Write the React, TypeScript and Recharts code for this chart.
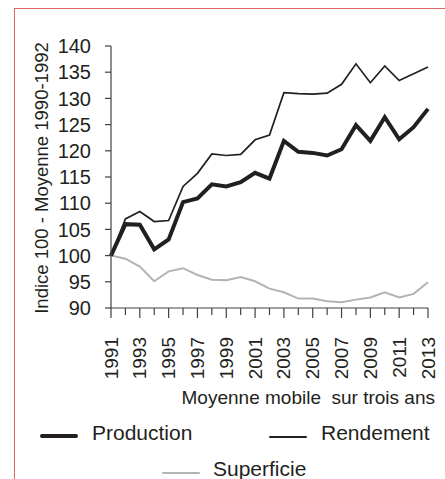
import { Label, Line, LineChart, XAxis, YAxis } from 'recharts'

const years = [
  '1991', '1992', '1993', '1994', '1995', '1996', '1997', '1998', '1999', '2000', '2001', '2002',
  '2003', '2004', '2005', '2006', '2007', '2008', '2009', '2010', '2011', '2012', '2013',
]
const production = [
  100, 106.0, 105.9, 101.2, 103.1, 110.2, 110.9, 113.6, 113.2, 114.0, 115.8, 114.7,
  121.9, 119.8, 119.6, 119.1, 120.3, 124.9, 121.9, 126.4, 122.2, 124.5, 128.0,
]
const rendement = [
  100, 107.0, 108.4, 106.5, 106.7, 113.2, 115.7, 119.4, 119.1, 119.3, 122.1, 123.0,
  131.1, 130.9, 130.8, 131.0, 132.7, 136.6, 133.0, 136.2, 133.4, 134.7, 136.0,
]
const superficie = [
  100, 99.4, 97.9, 95.1, 97.0, 97.6, 96.3, 95.4, 95.3, 95.9, 95.1, 93.7,
  93.0, 91.8, 91.8, 91.3, 91.1, 91.6, 92.0, 93.0, 92.0, 92.7, 94.9,
]
const yTicks = [90, 95, 100, 105, 110, 115, 120, 125, 130, 135, 140]

const data = years.map((year, i) => ({
  year,
  production: production[i],
  rendement: rendement[i],
  superficie: superficie[i],
}))

const font = 'Arial, "Liberation Sans", sans-serif'
const textColor = '#231f20'

// year ticks: every year gets a mark, odd years get a longer one and a label
function YearTick(props: any) {
  const { x, y, payload, index } = props
  const labelled = index % 2 === 0
  return (
    <g>
      <line x1={x} y1={y} x2={x} y2={y + (labelled ? 10 : 7)} stroke="#404040" strokeWidth={1.2} />
      {labelled && (
        <text
          x={0}
          y={0}
          transform={`translate(${x},${y + 29}) rotate(-90)`}
          textAnchor="end"
          dominantBaseline="central"
          fontSize={19}
          fontFamily={font}
          fill={textColor}
        >
          {payload.value}
        </text>
      )}
    </g>
  )
}

function YTitle(props: any) {
  const { viewBox } = props
  const cx = viewBox.x - 10
  const cy = viewBox.y + viewBox.height / 2 + 1
  return (
    <text
      x={cx}
      y={cy}
      transform={`rotate(-90, ${cx}, ${cy})`}
      textAnchor="middle"
      dominantBaseline="central"
      fontSize={18.5}
      fontFamily={font}
      fill={textColor}
    >
      Indice 100 - Moyenne 1990-1992
    </text>
  )
}

function LegendItem({ label, color, width, left, top, lineLeft, lineTop }: any) {
  return (
    <>
      <div
        style={{
          position: 'absolute',
          left: lineLeft,
          top: lineTop - width / 2,
          width: 38,
          height: width,
          background: color,
          borderRadius: width / 2,
        }}
      />
      <div
        style={{
          position: 'absolute',
          left,
          top: top - 13,
          fontSize: 21,
          lineHeight: '26px',
          fontFamily: font,
          color: textColor,
          whiteSpace: 'nowrap',
        }}
      >
        {label}
      </div>
    </>
  )
}

export default function App() {
  return (
    <div style={{ position: 'absolute', left: 0, top: 0, width: 445, height: 479, overflow: 'hidden', background: '#fff' }}>
      <div
        style={{
          position: 'absolute',
          left: 14,
          top: 8,
          width: 520,
          height: 520,
          border: '1px solid #e06666',
        }}
      />
      <div style={{ position: 'absolute', left: 0, top: 0 }}>
        <LineChart width={445} height={479} data={data} margin={{ top: 46, right: 17, bottom: 75, left: 51 }}>
          <XAxis
            dataKey="year"
            interval={0}
            height={96}
            axisLine={{ stroke: '#404040', strokeWidth: 1.2 }}
            tickLine={false}
            tickSize={0}
            tickMargin={0}
            tick={<YearTick />}
          >
            <Label
              value={'Moyenne mobile\u00a0\u00a0sur trois ans'}
              position="insideBottomRight"
              offset={0}
              dx={7}
              style={{ fontSize: 19, fontFamily: font, fill: textColor }}
            />
          </XAxis>
          <YAxis
            domain={[90, 140]}
            ticks={yTicks}
            interval={0}
            width={60}
            axisLine={{ stroke: '#404040', strokeWidth: 1.2 }}
            tickLine={{ stroke: '#404040', strokeWidth: 1.2 }}
            tickSize={6}
            tickMargin={14}
            tick={{ fontSize: 20, fontFamily: font, fill: textColor }}
          >
            <Label content={<YTitle />} />
          </YAxis>
          <Line dataKey="superficie" stroke="#b3b3b3" strokeWidth={2} dot={false} isAnimationActive={false} />
          <Line dataKey="rendement" stroke="#231f20" strokeWidth={1.7} dot={false} isAnimationActive={false} />
          <Line dataKey="production" stroke="#231f20" strokeWidth={4} dot={false} isAnimationActive={false} />
        </LineChart>
      </div>
      <LegendItem label="Production" color="#231f20" width={4} lineLeft={40} lineTop={436} left={92} top={433} />
      <LegendItem label="Rendement" color="#231f20" width={2} lineLeft={269} lineTop={437} left={321} top={433} />
      <LegendItem label="Superficie" color="#b3b3b3" width={2} lineLeft={162} lineTop={473} left={213} top={469} />
    </div>
  )
}
